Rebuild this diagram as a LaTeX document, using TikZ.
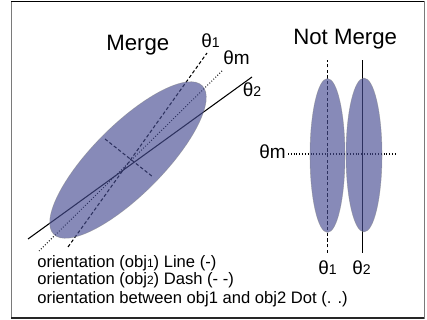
\documentclass[tikz,border=0pt]{standalone}
\usepackage{fontspec}
\setmainfont{Liberation Sans}
\usepackage{tikz}
\usetikzlibrary{shapes.geometric, positioning, calc}
\definecolor{ellblue}{RGB}{70,76,146}
\definecolor{framegray}{HTML}{7A7A7A}
\newcommand\lowdig[1]{{\fontsize{10}{10}\selectfont #1}}
\newcommand\legdig[1]{{\fontsize{8.5}{9}\selectfont #1}}

\begin{document}
\begin{tikzpicture}[x=0.025cm, y=0.025cm]
  \tikzset{
    ell/.style={fill=ellblue, fill opacity=0.65, draw=gray, draw opacity=0.5, line width=0.4pt},
    dashline/.style={line width=0.75pt, dash pattern=on 2.4pt off 1.6pt},
    dotline/.style={line width=0.75pt, dash pattern=on 0.6pt off 1.4pt},
    solidline/.style={line width=0.75pt},
    title/.style={font=\fontsize{15.8}{18}\selectfont, inner sep=0pt, anchor=base west},
    theta/.style={font=\fontsize{13.5}{15}\selectfont, inner sep=0pt, anchor=base west},
    leg/.style={font=\fontsize{11.8}{13}\selectfont, inner sep=0pt, anchor=base west},
  }
  \useasboundingbox (0,0) rectangle (427,320);
  % frame
  \draw[framegray, line width=0.6pt] (11,2) rectangle (424,318.5);
  \draw[black, line width=1.3pt] (11,318.5) -- (424,318.5);
  \draw[black!85, line width=1.3pt] (11,2) -- (424,2);

  % merge: three orientations
  \coordinate (d1a) at (68,73);   \coordinate (d1b) at (207,267);
  \coordinate (dma) at (39,69);   \coordinate (dmb) at (223,250);
  \coordinate (d2a) at (28,81);   \coordinate (d2b) at (252,243);
  \coordinate (mna) at (105,181); \coordinate (mnb) at (153,143);
  \draw[dashline] (d1a) -- (d1b);
  \draw[dotline] (dma) -- (dmb);
  \draw[solidline] (d2a) -- (d2b);
  \draw[dashline] (mna) -- (mnb);
  \node[ell, ellipse, rotate=45, minimum width=210*0.025cm, minimum height=70*0.025cm] (me) at (128,160) {};

  % not merge
  \coordinate (v1a) at (327.5,67);  \coordinate (v1b) at (327.5,260);
  \coordinate (v2a) at (362.7,67);  \coordinate (v2b) at (362.7,260);
  \coordinate (hma) at (288,166);   \coordinate (hmb) at (395,166);
  \draw[dashline] (v1a) -- (v1b);
  \draw[solidline] (v2a) -- (v2b);
  \draw[dotline] (hma) -- (hmb);
  \node[ell, ellipse, minimum width=35*0.025cm, minimum height=154*0.025cm] (nl) at (327.5,164.5) {};
  \node[ell, ellipse, minimum width=36*0.025cm, minimum height=154*0.025cm] (nr) at (364,165) {};

  % labels
  \node[title] (tmerge) at (106,269.3) {Merge};
  \node[title] (tnot) at (293,275) {Not Merge};
  \node[theta] (l1) at (201,272) {θ\lowdig{1}};
  \node[theta] (lm) at (223,255) {θm};
  \node[theta] (l2) at (242.5,223.3) {θ\lowdig{2}};
  \node[theta] (rm) at (259,161) {θm};
  \node[theta] (r1) at (318,45.5) {θ\lowdig{1}};
  \node[theta] (r2) at (352,45.5) {θ\lowdig{2}};

  % legend
  \node[leg] (leg1) at (37,52.7) {orientation (obj\legdig{1}) Line (-)};
  \node[leg] (leg2) at (37,35) {orientation (obj\legdig{2}) Dash (- -)};
  \node[leg] (leg3) at (37,16) {orientation between obj1 and obj2 Dot (. .)};
\end{tikzpicture}
\end{document}
